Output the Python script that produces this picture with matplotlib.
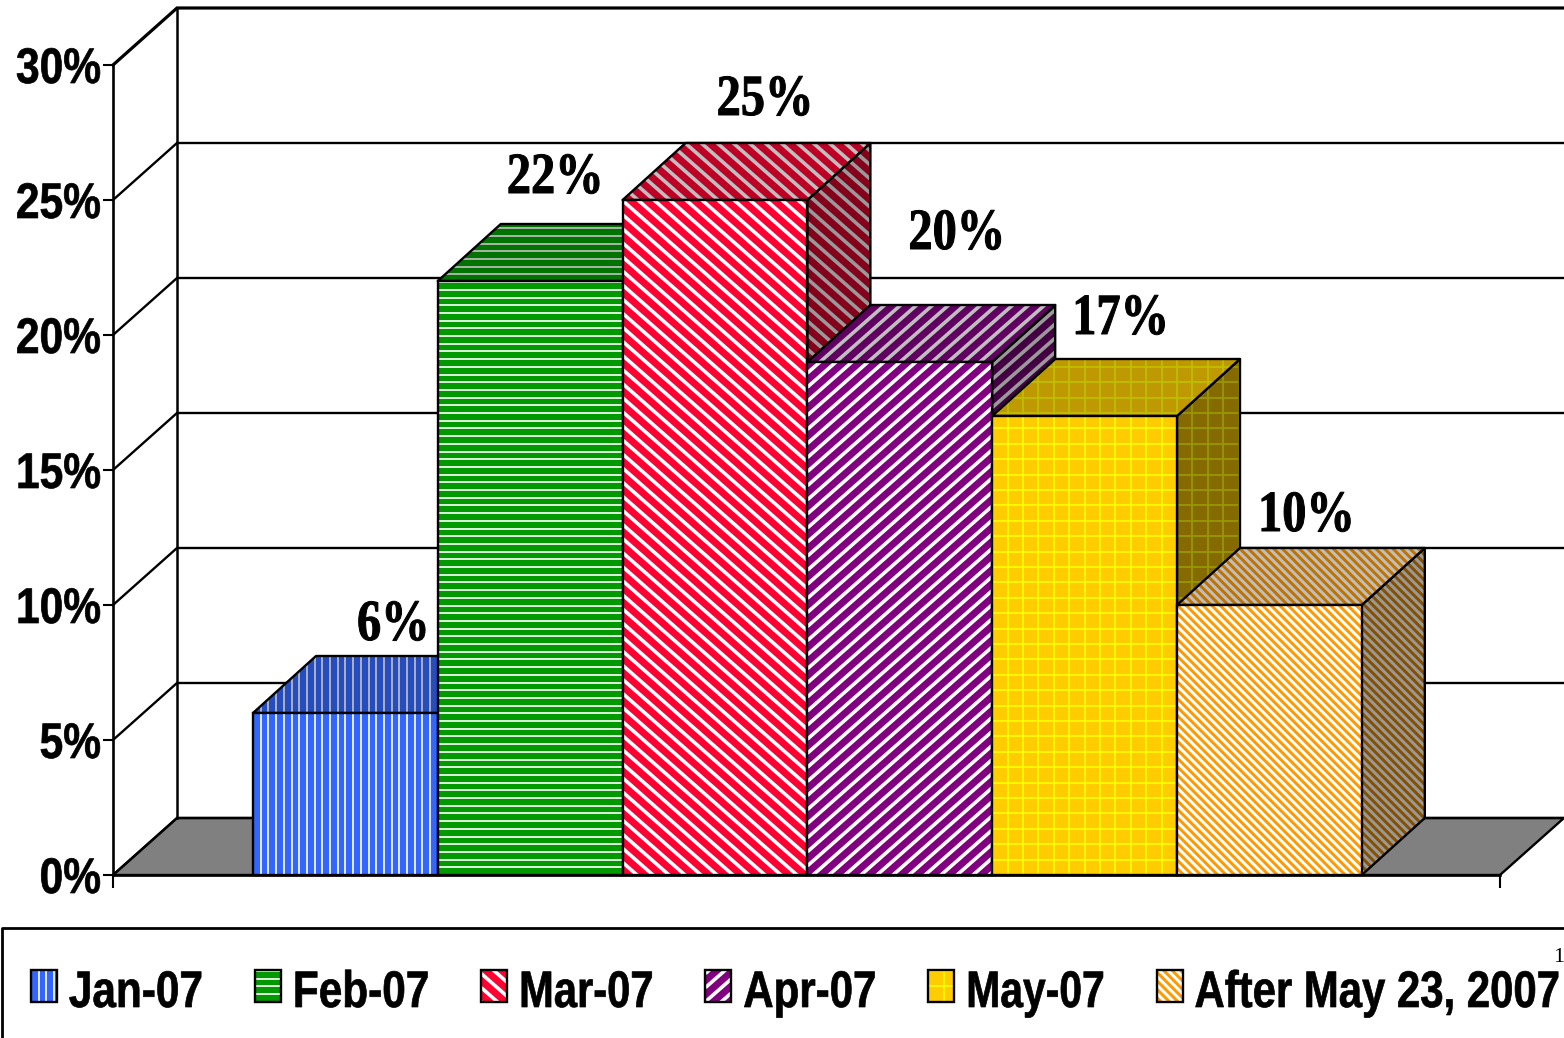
import numpy as np
import matplotlib
matplotlib.use("Agg")
import matplotlib.pyplot as plt
from matplotlib.collections import LineCollection
from matplotlib.patches import Polygon, Rectangle
from matplotlib.patheffects import AbstractPathEffect
from matplotlib.text import Text
from matplotlib.transforms import Affine2D, Bbox

# ---- data ----
categories = ["Jan-07", "Feb-07", "Mar-07", "Apr-07", "May-07", "After May 23, 2007"]
values = [6.0, 22.0, 25.0, 19.0, 17.0, 10.0]
value_labels = ["6%", "22%", "25%", "20%", "17%", "10%"]
y_ticks = [0, 5, 10, 15, 20, 25, 30]
y_tick_labels = ["0%", "5%", "10%", "15%", "20%", "25%", "30%"]

# ---- style ----
fills = ["#3366FF", "#009900", "#FF0033", "#800080", "#FFCC00", "#FF9900"]
stripe_colors = ["#FFFFFF", "#FFFFFF", "#FFFFFF", "#FFFFFF", "#FFFF00", "#FFFFFF"]
stripe_kinds = ["v", "h", "back", "fwd", "grid", "back"]
stripe_steps = [7.7, 7.7, 16.0, 16.0, 15.4, 8.5]
stripe_widths = [1.7, 1.7, 3.6, 3.6, 1.7, 3.0]
stripe_slopes = [1.0, 1.0, 0.88, 0.88, 1.0, 1.0]
label_offsets = [(104, 73), (69, 88), (94, 85), (101, 113), (80, 82), (81, 74)]
legend_squeeze = [0.824, 0.824, 0.812, 0.818, 0.795, 0.815]

W, H = 1564, 1038
X0, SX = 253.0, 184.8    # px of first bar's left edge, px per category
Y0, SY = 875.0, 27.0     # px of 0 %, px per percent
WALL_DX, WALL_DY = 64.0 / SX, 57.0 / SY   # oblique depth of the walls
DX, DY = 63.0 / SX, 57.0 / SY             # oblique depth of the bars
X_LEFT, X_RIGHT = (113 - X0) / SX, (1500 - X0) / SX

SANS = ["Liberation Sans", "DejaVu Sans"]
SERIF = ["Liberation Serif", "DejaVu Serif"]
PT = 72.0 / 100.0


class Condense(AbstractPathEffect):
    """Draws real text narrower and a little heavier, like the reference's face."""
    def __init__(self, sx, stroke=0.0, right=False):
        super().__init__()
        self.sx, self.stroke, self.right = sx, stroke, right

    def draw_path(self, renderer, gc, tpath, affine, rgbFace=None):
        anchor = tpath.get_extents().x1 if self.right else 0.0
        aff = Affine2D().translate(-anchor, 0).scale(self.sx, 1).translate(anchor, 0) + affine
        gc0 = renderer.new_gc()
        gc0.copy_properties(gc)
        if self.stroke > 0:
            gc0.set_linewidth(self.stroke)
            gc0.set_foreground(rgbFace)
        else:
            gc0.set_linewidth(0)
        renderer.draw_path(gc0, tpath, aff, rgbFace)
        gc0.restore()


class CondensedText(Text):
    """Left-aligned text that reports the width it is drawn with."""
    squeeze = 1.0

    def _get_layout(self, renderer):
        bbox, info, descent = super()._get_layout(renderer)
        bbox = Bbox.from_bounds(bbox.x0, bbox.y0, bbox.width * self.squeeze, bbox.height)
        return bbox, info, descent


def scaled(color, k):
    r, g, b = matplotlib.colors.to_rgb(color)
    return (r * k, g * k, b * k)


def stripe_segments(box, i):
    """Segments in px covering box = (xmin, ymin, xmax, ymax), y upwards."""
    x0, y0, x1, y1 = box
    kind, step, m = stripe_kinds[i], stripe_steps[i], stripe_slopes[i]
    segs = []
    if kind in ("v", "grid"):
        for x in np.arange(np.floor(x0 / step) * step, x1 + step, step):
            segs.append([(x, y0), (x, y1)])
    if kind in ("h", "grid"):
        for y in np.arange(np.floor(y0 / step) * step, y1 + step, step):
            segs.append([(x0, y), (x1, y)])
    if kind == "back":
        dc = m * step
        for c in np.arange(np.floor((y0 + m * x0) / dc) * dc, y1 + m * x1 + dc, dc):
            segs.append([(x0, c - m * x0), (x1, c - m * x1)])
    if kind == "fwd":
        dc = m * step
        for c in np.arange(np.floor((y0 - m * x1) / dc) * dc, y1 - m * x0 + dc, dc):
            segs.append([(x0, c + m * x0), (x1, c + m * x1)])
    return segs


fig = plt.figure(figsize=(W / 100, H / 100), dpi=100, facecolor="white")
ax = fig.add_axes([0, 0, 1, 1])
ax.set_xlim(-X0 / SX, (W - X0) / SX)
ax.set_ylim((Y0 - H) / SY, Y0 / SY)


def add_stripes(box_px, i, color, z, clip):
    segs = [np.array(s) / [SX, SY] for s in stripe_segments(box_px, i)]
    lc = LineCollection(segs, colors=[color], linewidths=stripe_widths[i] * PT, zorder=z)
    ax.add_collection(lc, autolim=False)
    lc.set_clip_path(clip)


def face(pts, fill, stripe, i, z):
    pts = np.asarray(pts, float)
    base = Polygon(pts, closed=True, facecolor=fill, edgecolor="none", zorder=z)
    ax.add_patch(base)
    px = pts * [SX, SY]
    add_stripes((px[:, 0].min(), px[:, 1].min(), px[:, 0].max(), px[:, 1].max()), i, stripe, z + 0.1, base)
    ax.add_patch(Polygon(pts, closed=True, facecolor="none", edgecolor="black",
                         linewidth=1.7, joinstyle="round", zorder=z + 0.2))


# floor
ax.add_patch(Polygon([(X_LEFT, 0), (X_LEFT + WALL_DX, WALL_DY), (X_RIGHT + WALL_DX, WALL_DY), (X_RIGHT, 0)],
                     closed=True, facecolor="#808080", edgecolor="black", linewidth=1.7, zorder=1))
# walls and gridlines
for t in y_ticks:
    lw = 2.3 if t == y_ticks[-1] else 1.7
    ax.plot([X_LEFT, X_LEFT + WALL_DX, X_RIGHT + WALL_DX], [t, t + WALL_DY, t + WALL_DY],
            color="black", lw=lw, zorder=2, solid_joinstyle="miter")
ax.plot([X_LEFT + WALL_DX, X_LEFT + WALL_DX], [WALL_DY, y_ticks[-1] + WALL_DY], color="black", lw=1.8, zorder=2)

# bars: front faces come from ax.bar, the oblique faces from the same values
positions = np.arange(len(values), dtype=float)
for i, (x, v) in enumerate(zip(positions, values)):
    z = 10 + i
    fill, stripe = fills[i], stripe_colors[i]
    face([(x + 1, 0), (x + 1 + DX, DY), (x + 1 + DX, v + DY), (x + 1, v)],
         scaled(fill, 0.52), scaled(stripe, 0.6), i, z)
    face([(x, v), (x + DX, v + DY), (x + 1 + DX, v + DY), (x + 1, v)],
         scaled(fill, 0.75), scaled(stripe, 0.75), i, z + 0.3)
    bar = ax.bar(x, v, width=1, align="edge", color=fill, linewidth=0, zorder=z + 0.6)[0]
    add_stripes((x * SX, 0, (x + 1) * SX, v * SY), i, stripe, z + 0.7, bar)
    ax.bar(x, v, width=1, align="edge", fill=False, edgecolor="black", linewidth=1.7, zorder=z + 0.8)

# axes
for side in ("top", "right"):
    ax.spines[side].set_visible(False)
ax.spines["left"].set_position(("data", X_LEFT))
ax.spines["left"].set_bounds(y_ticks[0], y_ticks[-1])
ax.spines["bottom"].set_position(("data", 0))
ax.spines["bottom"].set_bounds(X_LEFT, X_RIGHT)
for sp in ("left", "bottom"):
    ax.spines[sp].set_linewidth(1.9)
    ax.spines[sp].set_zorder(30)
ax.set_yticks(y_ticks, y_tick_labels, fontfamily=SANS, fontweight="bold", fontsize=36)
for lab in ax.get_yticklabels():
    lab.set_path_effects([Condense(0.85, stroke=0.5, right=True)])
ax.set_xticks([X_LEFT, X_RIGHT], ["", ""])
ax.tick_params(axis="y", direction="out", length=7.5, width=1.5, pad=1)
ax.tick_params(axis="x", direction="out", length=9, width=1.5)
ax.set_xlim(-X0 / SX, (W - X0) / SX)
ax.set_ylim((Y0 - H) / SY, Y0 / SY)

# value labels
for x, v, text, off in zip(positions, values, value_labels, label_offsets):
    ax.annotate(text, xy=(x, v), xytext=off, textcoords="offset pixels", ha="left", va="baseline",
                fontfamily=SERIF, fontweight="bold", fontsize=42, color="black", zorder=40,
                path_effects=[Condense(0.83, stroke=0.7)])


# legend
class Swatch:
    def __init__(self, i):
        self.i = i


class SwatchHandler:
    def legend_artist(self, legend, orig, fontsize, handlebox):
        i = orig.i
        w, h = 26 * PT, 32 * PT
        y = (handlebox.height - h) / 2
        rect = Rectangle((0, y), w, h, facecolor=fills[i], edgecolor="none",
                         transform=handlebox.get_transform())
        handlebox.add_artist(rect)
        segs = [np.array(s) * PT + [0, y] for s in stripe_segments((0, 0, w / PT, h / PT), i)]
        lc = LineCollection(segs, colors=[stripe_colors[i]], linewidths=stripe_widths[i] * PT,
                            transform=handlebox.get_transform())
        handlebox.add_artist(lc)
        lc.set_clip_path(rect)
        edge = Rectangle((0, y), w, h, facecolor="none", edgecolor="black", linewidth=1.7,
                         transform=handlebox.get_transform())
        handlebox.add_artist(edge)
        return rect


leg = ax.legend([Swatch(i) for i in range(len(categories))], categories,
                handler_map={Swatch: SwatchHandler()}, ncols=len(categories), frameon=False,
                loc="lower left", bbox_to_anchor=(31 / W, 1 - 1018 / H), bbox_transform=fig.transFigure,
                borderpad=0, borderaxespad=0, handlelength=0.506, handleheight=0.9,
                handletextpad=0.23, columnspacing=1.01,
                prop={"family": SANS, "weight": "bold", "size": 37})
leg.set_zorder(50)
for t, k in zip(leg.get_texts(), legend_squeeze):
    t.__class__ = CondensedText
    t.squeeze = k
    t.set_path_effects([Condense(k, stroke=0.5)])

# legend frame (runs past the page on the right and at the bottom)
ax.plot([(2 - X0) / SX, (2 - X0) / SX, (W - X0) / SX],
        [(Y0 - H) / SY, (Y0 - 928) / SY, (Y0 - 928) / SY], color="black", lw=2.0, zorder=45)

# stray page number at the right edge
ax.text((W - X0) / SX, (Y0 - 962) / SY, "1", ha="right", va="baseline",
        fontfamily=SERIF, fontsize=16, color="black", zorder=46)

fig.savefig("out.png", dpi=100, facecolor="white")
